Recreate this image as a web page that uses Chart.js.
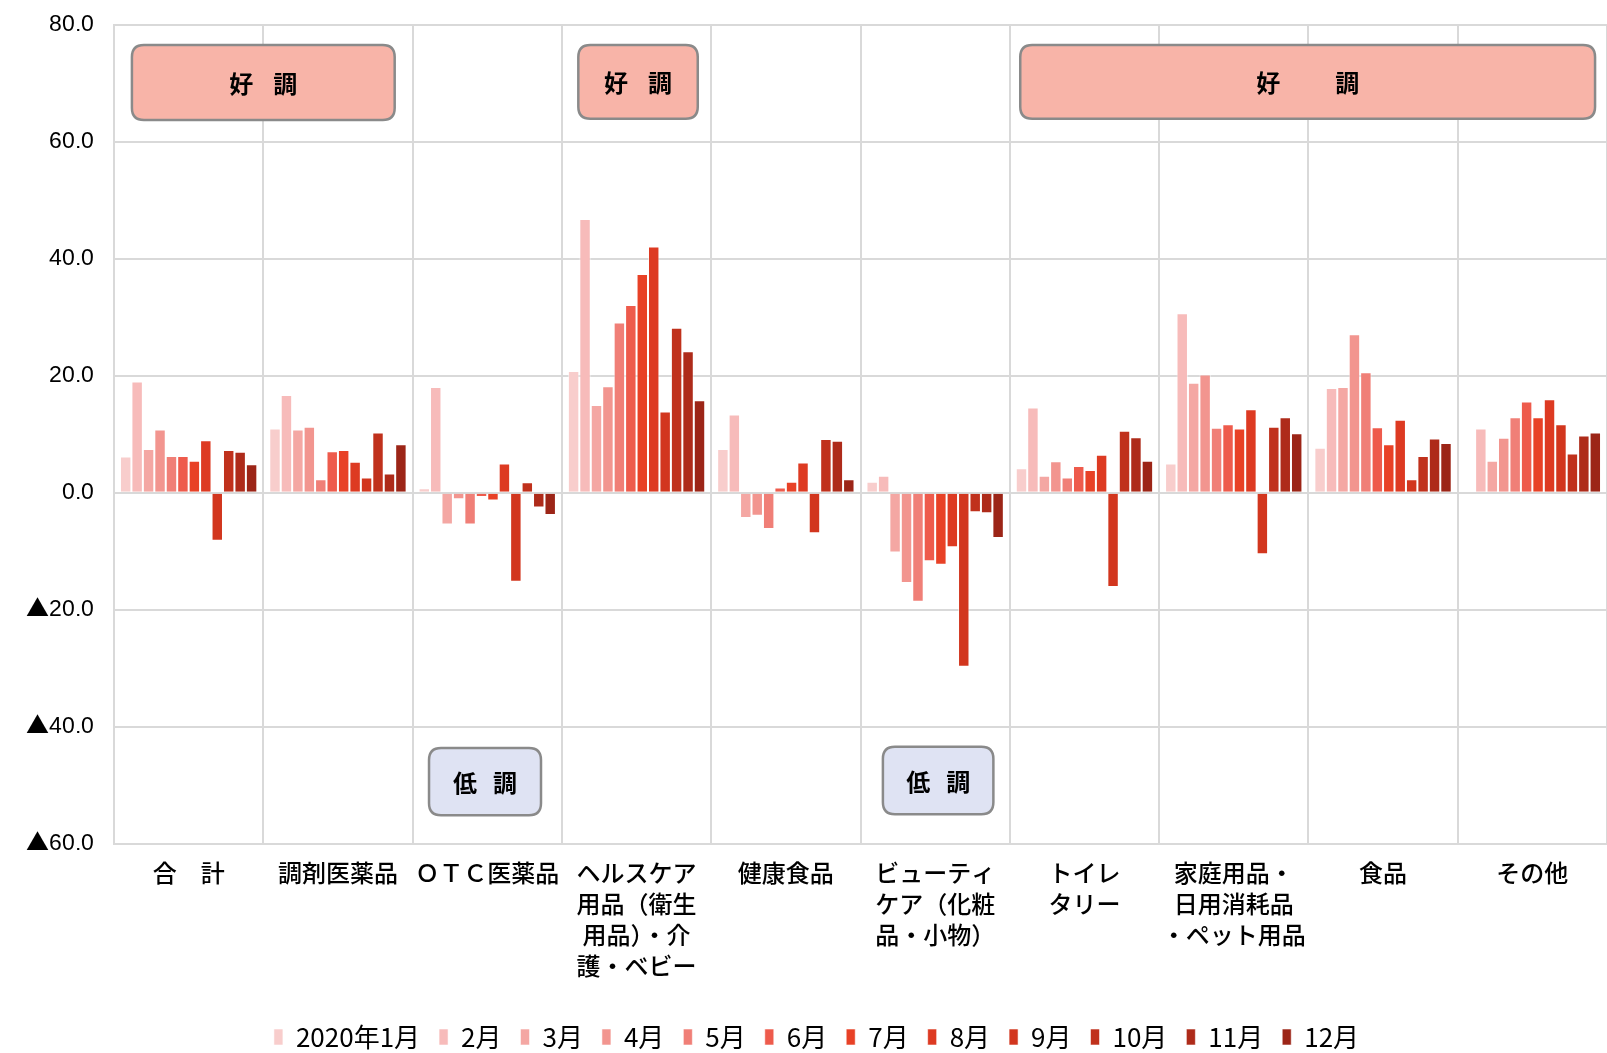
<!DOCTYPE html>
<html>
<head>
<meta charset="utf-8">
<script src="https://cdn.jsdelivr.net/npm/chart.js@4/dist/chart.umd.min.js"></script>
<style>
  html, body { margin: 0; padding: 0; background: #fff; }
  #wrap { width: 1607px; height: 1053px; }
  @font-face {
    font-family: 'YTick';
    src: local('Noto Sans CJK JP Regular'), local('NotoSansCJKjp-Regular'), local('Noto Sans CJK JP');
    unicode-range: U+25B2;
  }
  @font-face {
    font-family: 'YTick';
    src: local('Liberation Sans'), local('LiberationSans');
    unicode-range: U+0000-00FF;
  }
</style>
</head>
<body>
<div id="wrap"><canvas id="chart" width="1607" height="1053"></canvas></div>
<script>
// カテゴリ（複数行ラベル）
const categories = [
    ['合　計'],
    ['調剤医薬品'],
    ['ＯＴＣ医薬品'],
    ['ヘルスケア', '用品（衛生', '用品）・介', '護・ベビー'],
    ['健康食品'],
    ['ビューティ', 'ケア（化粧', '品・小物）'],
    ['トイレ', 'タリー'],
    ['家庭用品・', '日用消耗品', '・ペット用品'],
    ['食品'],
    ['その他']
];

const months = ['2020年1月', '2月', '3月', '4月', '5月', '6月', '7月', '8月', '9月', '10月', '11月', '12月'];

// 前年同月比（%）カテゴリ順
const m01 = [6.2, 11.0, 0.8, 20.8, 7.5, 1.9, 4.2, 5.0, 7.7, null];
const m02 = [19.0, 16.7, 18.1, 46.8, 13.4, 2.9, 14.6, 30.7, 17.9, 11.0];
const m03 = [7.5, 10.8, -5.4, 15.0, -4.3, -10.2, 2.9, 18.8, 18.1, 5.5];
const m04 = [10.8, 11.3, -1.1, 18.2, -3.9, -15.4, 5.4, 20.2, 27.1, 9.4];
const m05 = [6.3, 2.3, -5.4, 29.1, -6.2, -18.6, 2.6, 11.1, 20.6, 12.9];
const m06 = [6.3, 7.1, -0.7, 32.1, 0.9, -11.7, 4.6, 11.7, 11.2, 15.6];
const m07 = [5.5, 7.3, -1.3, 37.4, 1.9, -12.3, 3.9, 11.0, 8.3, 12.9];
const m08 = [9.0, 5.3, 5.0, 42.1, 5.2, -9.3, 6.5, 14.3, 12.5, 16.0];
const m09 = [-8.2, 2.6, -15.2, 13.9, -6.9, -29.7, -16.1, -10.5, 2.3, 11.7];
const m10 = [7.3, 10.3, 1.8, 28.2, 9.2, -3.3, 10.6, 11.3, 6.3, 6.7];
const m11 = [7.0, 3.3, -2.5, 24.2, 8.9, -3.5, 9.5, 12.9, 9.3, 9.8];
const m12 = [4.9, 8.3, -3.8, 15.8, 2.3, -7.7, 5.5, 10.2, 8.5, 10.3];
const monthValues = [m01, m02, m03, m04, m05, m06, m07, m08, m09, m10, m11, m12];

const yTicks = [80, 60, 40, 20, 0, -20, -40, -60];

// 好調・低調の吹き出し（カテゴリ位置と値の範囲）
const notes = [
    { text: ['好', '調'], gap: 20, from: -0.38, to: 1.38, top: 76.5, bottom: 63.7, fill: '#f8b4a8' },
    { text: ['好', '調'], gap: 20, from: 2.61, to: 3.41, top: 76.5, bottom: 63.9, fill: '#f8b4a8' },
    { text: ['好', '調'], gap: 55, from: 5.57, to: 9.42, top: 76.5, bottom: 63.9, fill: '#f8b4a8' },
    { text: ['低', '調'], gap: 16, from: 1.61, to: 2.36, top: -43.6, bottom: -55.1, fill: '#dfe3f3' },
    { text: ['低', '調'], gap: 16, from: 4.65, to: 5.39, top: -43.4, bottom: -54.9, fill: '#dfe3f3' }
];

const colors = ['#f8cdcc', '#f7bbba', '#f4a7a3', '#f2958f', '#f07f77', '#ee5b4c',
                '#e84126', '#dd3a22', '#d2361e', '#c0311c', '#ae2b1a', '#9c2517'];

const notePlugin = {
    id: 'notes',
    afterLayout(chart) {
        // 凡例を少し右へ
        if (chart.legend) {
            chart.legend.left += 13;
            chart.legend.right += 13;
        }
    },
    afterDatasetsDraw(chart) {
        const ctx = chart.ctx;
        const x = chart.scales.x, y = chart.scales.y;
        notes.forEach(n => {
            const l = x.getPixelForValue(n.from);
            const r = x.getPixelForValue(n.to);
            const t = y.getPixelForValue(n.top);
            const b = y.getPixelForValue(n.bottom);
            const rad = 12;
            ctx.save();
            ctx.beginPath();
            ctx.moveTo(l + rad, t);
            ctx.lineTo(r - rad, t);
            ctx.quadraticCurveTo(r, t, r, t + rad);
            ctx.lineTo(r, b - rad);
            ctx.quadraticCurveTo(r, b, r - rad, b);
            ctx.lineTo(l + rad, b);
            ctx.quadraticCurveTo(l, b, l, b - rad);
            ctx.lineTo(l, t + rad);
            ctx.quadraticCurveTo(l, t, l + rad, t);
            ctx.closePath();
            ctx.fillStyle = n.fill;
            ctx.fill();
            ctx.lineWidth = 2.5;
            ctx.strokeStyle = '#8a8a8a';
            ctx.stroke();
            ctx.fillStyle = '#000';
            ctx.font = 'bold 24px "Noto Sans CJK JP"';
            ctx.textBaseline = 'middle';
            const cx = (l + r) / 2, cy = (t + b) / 2 + 1;
            ctx.textAlign = 'right';
            ctx.fillText(n.text[0], cx - n.gap / 2, cy);
            ctx.textAlign = 'left';
            ctx.fillText(n.text[1], cx + n.gap / 2, cy);
            ctx.restore();
        });
    }
};

function drawChart() {
    const datasets = months.map((m, i) => ({
        label: m,
        data: monthValues[i],
        backgroundColor: colors[i],
        borderColor: 'rgba(255,255,255,0.55)',
        borderWidth: 1,
        categoryPercentage: 0.92,
        barPercentage: 1.0
    }));

    new Chart(document.getElementById('chart'), {
        type: 'bar',
        data: { labels: categories, datasets: datasets },
        plugins: [notePlugin],
        options: {
            responsive: false,
            animation: false,
            layout: { padding: { top: 24.6, right: 0, left: 0, bottom: -7 } },
            scales: {
                x: {
                    grid: { offset: true, color: '#d9d9d9', lineWidth: 2, drawTicks: false },
                    border: { color: '#d9d9d9', width: 2 },
                    ticks: {
                        color: '#000',
                        padding: 14,
                        maxRotation: 0,
                        autoSkip: false,
                        font: { family: '"Noto Sans CJK JP"', size: 24, weight: '500', lineHeight: 1.28 }
                    },
                    afterFit(scale) { scale.height = 161; }
                },
                y: {
                    min: -60,
                    max: 80,
                    afterBuildTicks(scale) { scale.ticks = yTicks.map(v => ({ value: v })); },
                    grid: { color: '#d9d9d9', lineWidth: 2, drawTicks: false },
                    border: { color: '#d9d9d9', width: 2 },
                    ticks: {
                        color: '#000',
                        padding: 20,
                        font: { family: 'YTick, "Liberation Sans", Arial', size: 23 },
                        callback: v => v < 0 ? '▲' + Math.abs(v).toFixed(1) : v.toFixed(1)
                    },
                    afterFit(scale) {
                        scale.width = 114;
                        scale.paddingTop = 0;
                        scale.paddingBottom = 0;
                    }
                }
            },
            plugins: {
                legend: {
                    position: 'bottom',
                    labels: {
                        color: '#000',
                        boxWidth: 9,
                        boxHeight: 16,
                        padding: 19,
                        font: { family: '"Liberation Sans Narrow", "Noto Sans CJK JP"', size: 26 }
                    }
                },
                tooltip: { enabled: false }
            }
        }
    });
}

Promise.race([
    document.fonts.load('23px YTick', '▲0.'),
    new Promise(res => setTimeout(res, 1500))
]).catch(() => {}).then(drawChart);
</script>
</body>
</html>
